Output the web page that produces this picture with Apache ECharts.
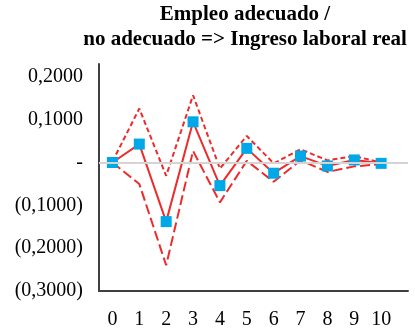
<!DOCTYPE html>
<html>
<head>
<meta charset="utf-8">
<script src="https://cdn.jsdelivr.net/npm/echarts@6/dist/echarts.min.js"></script>
<style>
  html, body { margin: 0; padding: 0; background: #ffffff; }
  #chart { width: 415px; height: 331px; }
</style>
</head>
<body>
<div id="chart"></div>
<script>
// Horizons (periods after the shock)
const periods = [0, 1, 2, 3, 4, 5, 6, 7, 8, 9, 10];
// Impulse response and its confidence band
const response = [0.000, 0.043, -0.138, 0.095, -0.054, 0.033, -0.025, 0.015, -0.008, 0.006, -0.002];
const upperBand = [0.002, 0.126, -0.031, 0.157, -0.014, 0.062, -0.002, 0.031, 0.005, 0.015, 0.000];
const lowerBand = [0.000, -0.050, -0.240, 0.027, -0.093, 0.004, -0.045, 0.005, -0.022, -0.009, -0.004];
// Y tick values
const yTicks = [-0.3, -0.2, -0.1, 0, 0.1, 0.2];

const pair = arr => periods.map((p, i) => [p, arr[i]]);
const red = '#ee2b2b';
const serif = '"Liberation Serif", "Times New Roman", serif';

function fmtY(v) {
  if (Math.abs(v) < 1e-9) return '-';
  const s = Math.abs(v).toFixed(4).replace('.', ',');
  return v < 0 ? '(' + s + ')' : s;
}

const chart = echarts.init(document.getElementById('chart'), null, { renderer: 'canvas' });
chart.setOption({
  animation: false,
  title: {
    text: 'Empleo adecuado /\nno adecuado => Ingreso laboral real',
    left: 245,
    top: 2,
    padding: 0,
    textAlign: 'center',
    textStyle: {
      fontFamily: serif,
      fontWeight: 'bold',
      fontSize: 21,
      lineHeight: 25,
      color: '#000000'
    }
  },
  grid: { left: 99, right: 7, top: 64, bottom: 40 },
  xAxis: {
    type: 'value',
    min: -0.5,
    max: 11,
    axisLine: { onZero: false, lineStyle: { color: '#404040', width: 2 } },
    axisTick: { show: false },
    splitLine: { show: false },
    axisLabel: {
      customValues: periods,
      margin: 19,
      fontFamily: serif,
      fontSize: 20,
      color: '#000000'
    }
  },
  yAxis: {
    type: 'value',
    min: -0.3,
    max: 0.23,
    interval: 0.1,
    axisLine: { show: true, onZero: false, lineStyle: { color: '#404040', width: 2 } },
    axisTick: { show: false },
    splitLine: { show: false },
    axisLabel: {
      customValues: yTicks,
      margin: 16,
      padding: [6, 0, 0, 0],
      fontFamily: serif,
      fontSize: 20,
      color: '#000000',
      formatter: fmtY
    }
  },
  series: [
    {
      name: 'zero',
      type: 'line',
      data: [],
      silent: true,
      markLine: {
        silent: true,
        symbol: 'none',
        label: { show: false },
        lineStyle: { color: '#d4d4d4', width: 2, type: 'solid' },
        data: [{ yAxis: 0 }]
      }
    },
    {
      name: 'lower',
      type: 'line',
      data: pair(lowerBand),
      symbol: 'none',
      lineStyle: { color: red, width: 2, type: [10, 4] }
    },
    {
      name: 'upper',
      type: 'line',
      data: pair(upperBand),
      symbol: 'none',
      lineStyle: { color: red, width: 2, type: [5, 3] }
    },
    {
      name: 'response',
      type: 'line',
      data: pair(response),
      symbol: 'rect',
      symbolSize: 11,
      itemStyle: { color: '#00a8e8' },
      lineStyle: { color: red, width: 2 }
    }
  ]
});
</script>
</body>
</html>
